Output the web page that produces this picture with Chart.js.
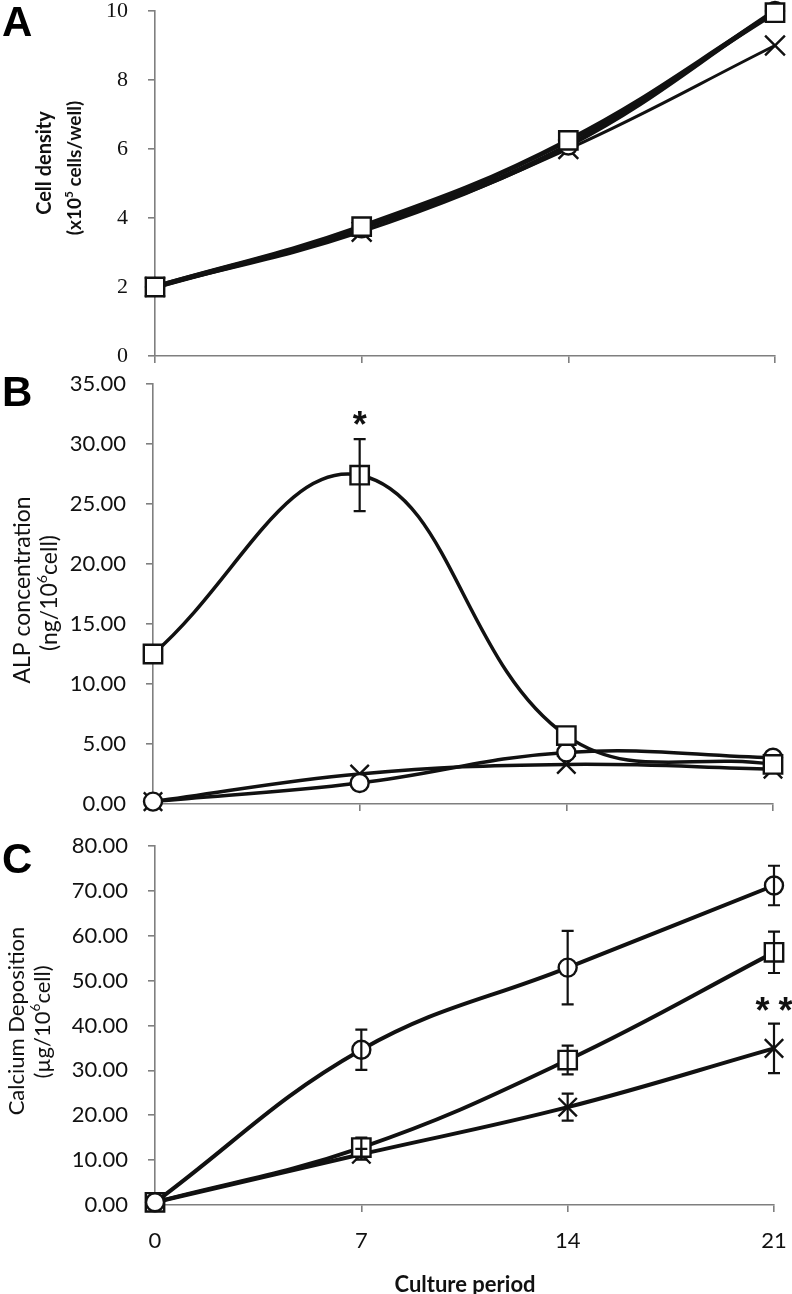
<!DOCTYPE html>
<html>
<head>
<meta charset="utf-8">
<script src="https://cdn.jsdelivr.net/npm/chart.js@4.4.1/dist/chart.umd.min.js"></script>
<style>
html, body { margin: 0; padding: 0; background: #fff; }
#wrap { position: relative; width: 792px; height: 1294px; overflow: hidden; }
.panel { position: absolute; left: 0; width: 792px; }
</style>
</head>
<body>
<div id="wrap">
  <div class="panel" style="top:0px"><canvas id="chartA" width="792" height="366"></canvas></div>
  <div class="panel" style="top:366px"><canvas id="chartB" width="792" height="460"></canvas></div>
  <div class="panel" style="top:826px"><canvas id="chartC" width="792" height="468"></canvas></div>
</div>
<script>
// culture days (x axis)
const dias = ['0', '7', '14', '21'];

// A: cell density (x10^5 cells/well)
const densidadCuadro  = [2.0, 3.75, 6.25, 9.95];
const densidadCirculo = [2.0, 3.70, 6.10, 10.0];
const densidadCruz    = [2.0, 3.60, 6.00, 9.0];

// B: ALP concentration (ng/10^6 cell)
const alpCuadro     = [12.5, 27.4, 5.7, 3.3];
const alpCuadroErr  = [0, 3.0, 0, 0];
const alpCirculo    = [0.2, 1.75, 4.3, 3.85];
const alpCruz       = [0.2, 2.5, 3.3, 2.9];

// C: calcium deposition (ug/10^6 cell)
const calcioCirculo    = [0.6, 34.6, 52.9, 71.2];
const calcioCirculoErr = [0, 4.5, 8.2, 4.4];
const calcioCuadro     = [0.6, 12.8, 32.3, 56.3];
const calcioCuadroErr  = [0, 2.2, 3.2, 4.6];
const calcioCruz       = [0.6, 11.3, 21.8, 34.9];
const calcioCruzErr    = [0, 1.2, 3.0, 5.5];

const ejeColor = '#7f7f7f';
const tinta = '#111';

// error bars, drawn from each dataset's "errors" array via the y scale
const barrasError = {
    id: 'barrasError',
    afterDatasetsDraw(chart) {
        const ctx = chart.ctx;
        const ys = chart.scales.y;
        chart.data.datasets.forEach((ds, i) => {
            if (!ds.errors) return;
            const meta = chart.getDatasetMeta(i);
            meta.data.forEach((pt, j) => {
                const e = ds.errors[j];
                if (!e) return;
                const v = ds.data[j];
                const yTop = ys.getPixelForValue(v + e);
                const yBot = ys.getPixelForValue(v - e);
                ctx.save();
                ctx.strokeStyle = tinta;
                ctx.lineWidth = 2.2;
                ctx.beginPath();
                ctx.moveTo(pt.x, yTop); ctx.lineTo(pt.x, yBot);
                ctx.moveTo(pt.x - 6, yTop); ctx.lineTo(pt.x + 6, yTop);
                ctx.moveTo(pt.x - 6, yBot); ctx.lineTo(pt.x + 6, yBot);
                ctx.stroke();
                ctx.restore();
            });
        });
    }
};

// significance marks, placed with the scales
const marcas = {
    id: 'marcas',
    afterDatasetsDraw(chart, args, opts) {
        if (!opts.items) return;
        const ctx = chart.ctx;
        opts.items.forEach(m => {
            const x = chart.scales.x.getPixelForValue(dias.indexOf(m.x));
            const y = chart.scales.y.getPixelForValue(m.y);
            ctx.save();
            ctx.fillStyle = tinta;
            ctx.font = 'bold 36px "Liberation Sans"';
            ctx.textAlign = 'center';
            ctx.textBaseline = 'alphabetic';
            const n = m.text.length, paso = 23;
            for (let k = 0; k < n; k++) {
                ctx.fillText(m.text[k], x + (k - (n - 1) / 2) * paso, y - 2);
            }
            ctx.restore();
        });
    }
};

function textoRotado(ctx, partes, cx, cy, size, weight) {
    const fuente = s => weight + ' ' + s + 'px Lato';
    ctx.save();
    ctx.translate(cx, cy);
    ctx.rotate(-Math.PI / 2);
    let total = 0;
    partes.forEach(p => {
        ctx.font = fuente(p.sup ? size * 0.62 : size);
        total += ctx.measureText(p.t).width;
    });
    let x = -total / 2;
    ctx.textAlign = 'left';
    ctx.textBaseline = 'middle';
    ctx.fillStyle = tinta;
    partes.forEach(p => {
        ctx.font = fuente(p.sup ? size * 0.62 : size);
        ctx.fillText(p.t, x, p.sup ? -size * 0.32 : 0);
        x += ctx.measureText(p.t).width;
    });
    ctx.restore();
}

// panel letter, y titles and x title
const rotulos = {
    id: 'rotulos',
    afterDraw(chart, args, opts) {
        const ctx = chart.ctx;
        ctx.save();
        ctx.fillStyle = '#000';
        ctx.font = 'bold 42px "Liberation Sans"';
        ctx.textAlign = 'left';
        ctx.textBaseline = 'alphabetic';
        ctx.fillText(opts.letra, 2, opts.letraY);
        ctx.restore();
        (opts.titulos || []).forEach(t => textoRotado(ctx, t.partes, t.x, t.y, t.size, t.weight || 'normal'));
        if (opts.tituloX) {
            ctx.save();
            ctx.fillStyle = tinta;
            ctx.font = 'bold 22px Lato';
            ctx.textAlign = 'center';
            ctx.textBaseline = 'middle';
            ctx.fillText(opts.tituloX.t, opts.tituloX.x, opts.tituloX.y);
            ctx.restore();
        }
    }
};

function serie(label, data, estilo, radio, ancho, errores) {
    return {
        label: label,
        data: data,
        errors: errores,
        borderColor: tinta,
        borderWidth: ancho,
        tension: 0.4,
        clip: false,
        pointStyle: estilo,
        pointRadius: radio,
        pointHoverRadius: radio,
        pointBorderWidth: 2.4,
        pointBorderColor: tinta,
        pointBackgroundColor: '#fff'
    };
}

function opciones(cfg) {
    return {
        responsive: false,
        animation: false,
        events: [],
        layout: { autoPadding: false, padding: { left: 0, top: cfg.top, right: cfg.right, bottom: 0 } },
        plugins: {
            legend: { display: false },
            tooltip: { enabled: false },
            marcas: { items: cfg.marcas || [] },
            rotulos: cfg.rotulos
        },
        scales: {
            x: {
                type: 'category',
                offset: false,
                border: { color: ejeColor, width: 1.6 },
                grid: { drawOnChartArea: false, drawTicks: true, tickLength: 7, color: ejeColor, lineWidth: 1.6 },
                ticks: {
                    display: cfg.xLabels,
                    color: tinta,
                    padding: 16,
                    maxRotation: 0,
                    font: { family: 'Lato', size: 22 }
                },
                afterFit: s => {
                    s.height = cfg.xHeight;
                    s.paddingLeft = 0; s.paddingRight = 0;
                }
            },
            y: {
                min: cfg.min, max: cfg.max,
                border: { color: ejeColor, width: 1.6 },
                grid: { drawOnChartArea: false, drawTicks: true, tickLength: 7, color: ejeColor, lineWidth: 1.6 },
                ticks: {
                    stepSize: cfg.step,
                    color: tinta,
                    padding: 20,
                    font: cfg.yFont,
                    callback: cfg.formato
                },
                afterFit: s => {
                    s.width = cfg.yWidth;
                    s.paddingTop = 0; s.paddingBottom = 0;
                }
            }
        }
    };
}

Chart.register(barrasError, marcas, rotulos);

// A
new Chart(document.getElementById('chartA'), {
    type: 'line',
    data: {
        labels: dias,
        datasets: [
            serie('Cuadro', densidadCuadro, 'rect', 13, 5),
            serie('Circulo', densidadCirculo, 'circle', 9, 5),
            serie('Cruz', densidadCruz, 'crossRot', 14, 3)
        ]
    },
    options: opciones({
        top: 11, right: 17, xHeight: 10, yWidth: 155, xLabels: false,
        min: 0, max: 10, step: 2,
        yFont: { family: '"Liberation Serif"', size: 22 },
        formato: v => String(v),
        rotulos: {
            letra: 'A', letraY: 36,
            titulos: [
                { partes: [{ t: 'Cell density' }], x: 45, y: 163, size: 20, weight: 'bold' },
                { partes: [{ t: '(x10' }, { t: '5', sup: true }, { t: ' cells/well)' }], x: 75, y: 168, size: 19, weight: 'bold' }
            ]
        }
    })
});

// B
new Chart(document.getElementById('chartB'), {
    type: 'line',
    data: {
        labels: dias,
        datasets: [
            serie('Cuadro', alpCuadro, 'rect', 13, 3.5, alpCuadroErr),
            serie('Circulo', alpCirculo, 'circle', 9, 3.5),
            serie('Cruz', alpCruz, 'crossRot', 13, 3.5)
        ]
    },
    options: opciones({
        top: 18, right: 19, xHeight: 22, yWidth: 153, xLabels: false,
        min: 0, max: 35, step: 5,
        yFont: { family: 'Lato', size: 22 },
        formato: v => v.toFixed(2),
        marcas: [{ x: '7', y: 30.4, text: '*' }],
        rotulos: {
            letra: 'B', letraY: 40,
            titulos: [
                { partes: [{ t: 'ALP concentration' }], x: 23, y: 224, size: 23 },
                { partes: [{ t: '(ng/10' }, { t: '6', sup: true }, { t: 'cell)' }], x: 50, y: 227, size: 23 }
            ]
        }
    })
});

// C
new Chart(document.getElementById('chartC'), {
    type: 'line',
    data: {
        labels: dias,
        datasets: [
            serie('Circulo', calcioCirculo, 'circle', 9, 4, calcioCirculoErr),
            serie('Cuadro', calcioCuadro, 'rect', 13, 4, calcioCuadroErr),
            serie('Cruz', calcioCruz, 'crossRot', 13, 4, calcioCruzErr)
        ]
    },
    options: opciones({
        top: 20, right: 18, xHeight: 89, yWidth: 155, xLabels: true,
        min: 0, max: 80, step: 10,
        yFont: { family: 'Lato', size: 22 },
        formato: v => v.toFixed(2),
        marcas: [{ x: '21', y: 40.2, text: '**' }],
        rotulos: {
            letra: 'C', letraY: 47,
            titulos: [
                { partes: [{ t: 'Calcium Deposition' }], x: 17, y: 195, size: 22 },
                { partes: [{ t: '(\u00b5g/10' }, { t: '6', sup: true }, { t: 'cell)' }], x: 43, y: 196, size: 22 }
            ],
            tituloX: { t: 'Culture period', x: 465, y: 459 }
        }
    })
});
</script>
</body>
</html>
